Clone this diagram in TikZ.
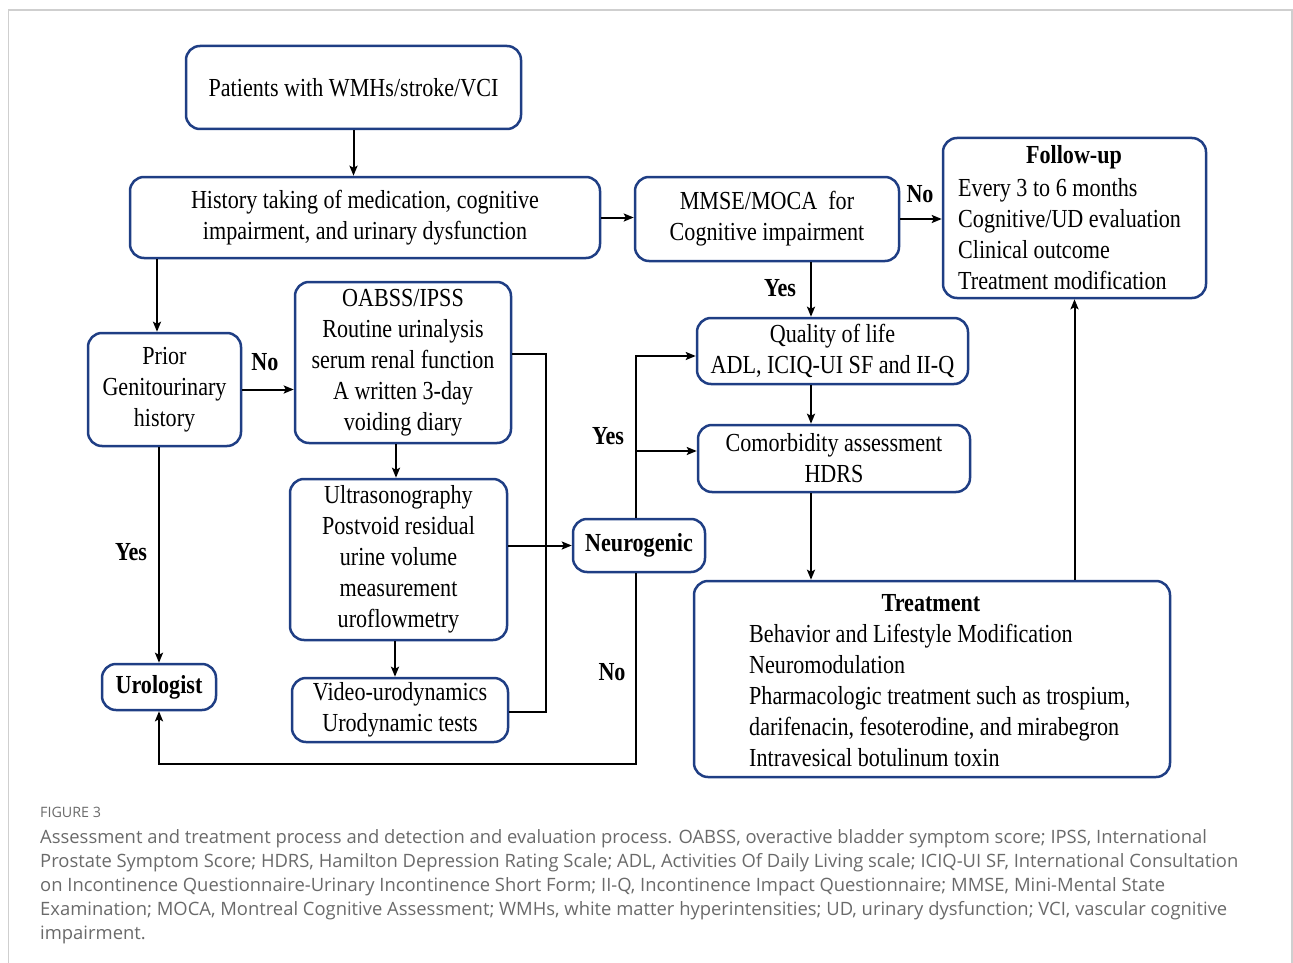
\documentclass[tikz,border=0pt]{standalone}
\usepackage{fontspec}
\setmainfont{LiberationSerif}[Extension=.ttf,UprightFont=*-Regular,BoldFont=*-Bold,ItalicFont=*-Italic,BoldItalicFont=*-BoldItalic,FakeStretch=0.85]
\newfontfamily\capfont{Open Sans}
\usetikzlibrary{arrows.meta}
\definecolor{boxblue}{HTML}{1F3E84}
\definecolor{capgray}{HTML}{6A6A6A}
\definecolor{framegray}{HTML}{CFCFCF}
\begin{document}
\begin{tikzpicture}[x=1pt,y=-1pt,
 box/.style={draw=boxblue,line width=2.5pt,rounded corners=14pt,inner sep=0pt,align=center,font=\rmfamily\fontsize{26}{31}\selectfont},
 arr/.style={line width=2pt,-{Stealth[length=10pt,width=8pt,inset=2pt]}},
 ln/.style={line width=2pt},
 lab/.style={font=\rmfamily\fontsize{26}{28}\selectfont\bfseries,inner sep=0pt},
 txt/.style={font=\rmfamily\fontsize{26}{31}\selectfont,inner sep=0pt,align=left},
 ttl/.style={font=\rmfamily\fontsize{26}{28}\selectfont\bfseries,inner sep=0pt}]
\useasboundingbox (0,0) rectangle (1293,963);
\draw[framegray,line width=1.5pt] (8.5,963) -- (8.5,10) -- (1292,10) -- (1292,963);

% boxes
\node[box,minimum width=335pt,minimum height=83pt] (pat) at (353.5,87.5) {Patients with WMHs/stroke/VCI};
\node[box,minimum width=470pt,minimum height=81pt] (hist) at (365,217.5) {History taking of medication, cognitive\\impairment, and urinary dysfunction};
\node[box,minimum width=264pt,minimum height=84pt] (mmse) at (767,219) {MMSE/MOCA\ \ for\\Cognitive impairment};
\node[box,minimum width=263pt,minimum height=160pt] (fu) at (1074.5,218) {};
\node[ttl] (futitle) at (1074,157) {Follow-up};
\node[txt,anchor=west] (fubody) at (958,234) {Every 3 to 6 months\\Cognitive/UD\ evaluation\\Clinical\ outcome\\Treatment modification};
\node[box,minimum width=153pt,minimum height=113pt] (prior) at (164.5,389.5) {Prior\\Genitourinary\\history};
\node[box,minimum width=216pt,minimum height=161pt] (oab) at (403,362.5) {OABSS/IPSS\\Routine urinalysis\\serum renal function\\A written 3-day\\voiding\ diary};
\node[box,minimum width=271pt,minimum height=66pt] (qol) at (832.5,351) {Quality of life\\ADL, ICIQ-UI SF\ and II-Q};
\node[box,minimum width=272pt,minimum height=67pt] (com) at (834,458.5) {Comorbidity assessment\\HDRS};
\node[box,minimum width=217pt,minimum height=161pt] (us) at (398.5,559.5) {Ultrasonography\\Postvoid residual\\urine volume\\measurement\\uroflowmetry};
\node[box,minimum width=132pt,minimum height=53pt,font=\rmfamily\fontsize{26}{28}\selectfont\bfseries] (neu) at (639,545.5) {Neurogenic};
\node[box,minimum width=476pt,minimum height=196pt] (tr) at (932,679) {};
\node[ttl] (trtitle) at (931,603) {Treatment};
\node[txt,anchor=west] (trbody) at (749,695.5) {Behavior and Lifestyle Modification\\Neuromodulation\\Pharmacologic treatment such as trospium,\\darifenacin, fesoterodine, and mirabegron\\Intravesical botulinum toxin};
\node[box,minimum width=114pt,minimum height=46pt,font=\rmfamily\fontsize{26}{28}\selectfont\bfseries] (uro) at (159,687) {Urologist};
\node[box,minimum width=216pt,minimum height=64pt] (vid) at (400,710) {Video-urodynamics\\Urodynamic tests};

% helper coordinates
\coordinate (xq) at (811,0);
\coordinate (xl) at (157,0);
\coordinate (xo) at (396,0);
\coordinate (xu) at (395,0);
\coordinate (b1) at (546,354);
\coordinate (b2) at (546,712);
\coordinate (q1) at (636,356);
\coordinate (c1) at (636,451);
\coordinate (d1) at (636,764);

% connectors
\draw[arr] (pat.south) -- (pat.south |- hist.north);
\draw[arr] (hist.east) -- (mmse.west |- hist.east);
\draw[arr] (mmse.east) -- (fu.west |- mmse.east);
\draw[arr] (mmse.south -| xq) -- (qol.north -| xq);
\draw[arr] (qol.south -| xq) -- (com.north -| xq);
\draw[arr] (com.south -| xq) -- (tr.north -| xq);
\draw[arr] (tr.north -| fu.south) -- (fu.south);
\draw[arr] (hist.south -| xl) -- (prior.north -| xl);
\draw[arr] (prior.east) -- (oab.west |- prior.east);
\draw[arr] (prior.south -| uro.north) -- (uro.north);
\draw[arr] (oab.south -| xo) -- (us.north -| xo);
\draw[arr] (us.south -| xu) -- (vid.north -| xu);
\draw[ln] (b1 -| oab.east) -- (b1) -- (b2) -- (b2 -| vid.east);
\draw[arr] (us.east |- neu.west) -- (neu.west);
\draw[arr] (neu.north -| q1) -- (q1) -- (q1 -| qol.west);
\draw[arr] (c1) -- (c1 -| com.west);
\draw[arr] (neu.south -| d1) -- (d1) -- (d1 -| uro.south) -- (uro.south);

% labels
\node[lab] (l1) at (920,194) {No};
\node[lab] (l2) at (780,288) {Yes};
\node[lab] (l3) at (265,362) {No};
\node[lab] (l4) at (131,552) {Yes};
\node[lab] (l5) at (608,436) {Yes};
\node[lab] (l6) at (612,672) {No};

% caption
\node[anchor=west,inner sep=0pt,text=capgray,font=\capfont\fontsize{14.3}{16}\selectfont] (fig) at (40,812) {FIGURE 3};
\node[anchor=north west,inner sep=0pt,align=left,text=capgray,font=\capfont\fontsize{18.4}{24}\selectfont] (cap) at (40,829) {Assessment and treatment process and detection and evaluation process. OABSS, overactive bladder symptom score; IPSS, International\\Prostate Symptom Score; HDRS, Hamilton Depression Rating Scale; ADL, Activities Of Daily Living scale; ICIQ-UI SF, International Consultation\\on Incontinence Questionnaire-Urinary Incontinence Short Form; II-Q, Incontinence Impact Questionnaire; MMSE, Mini-Mental State\\Examination; MOCA, Montreal Cognitive Assessment; WMHs, white matter hyperintensities; UD, urinary dysfunction; VCI, vascular cognitive\\impairment.};
\end{tikzpicture}
\end{document}
